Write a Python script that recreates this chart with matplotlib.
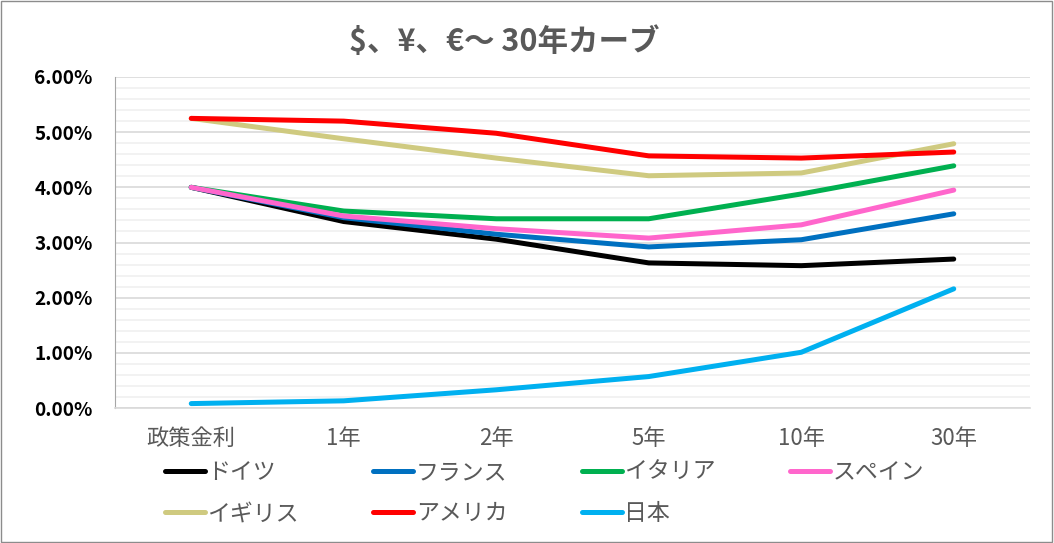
import matplotlib.pyplot as plt
from matplotlib.patches import Rectangle
from matplotlib.ticker import MultipleLocator, PercentFormatter

plt.rcParams['font.family'] = ['Noto Sans CJK JP', 'DejaVu Sans']

categories = ["政策金利", "1年", "2年", "5年", "10年", "30年"]

germany = [4.00, 3.38, 3.06, 2.63, 2.58, 2.70]
france = [4.00, 3.45, 3.15, 2.92, 3.05, 3.52]
italy = [4.00, 3.57, 3.43, 3.43, 3.88, 4.39]
spain = [4.00, 3.48, 3.25, 3.08, 3.32, 3.95]
uk = [5.25, 4.88, 4.53, 4.21, 4.26, 4.79]
usa = [5.25, 5.20, 4.98, 4.57, 4.53, 4.64]
japan = [0.08, 0.13, 0.33, 0.57, 1.01, 2.16]

series = [
    ("ドイツ", germany, "#000000"),
    ("フランス", france, "#0070C0"),
    ("イタリア", italy, "#00B050"),
    ("スペイン", spain, "#FF66CC"),
    ("イギリス", uk, "#CFCA80"),
    ("アメリカ", usa, "#FF0000"),
    ("日本", japan, "#00B0F0"),
]

fig = plt.figure(figsize=(10.54, 5.43), dpi=100)
ax = fig.add_axes([115/1054, 135/543, 915/1054, 331/543])

x = range(len(categories))
lines = {}
for name, vals, col in series:
    ln, = ax.plot(x, vals, color=col, lw=3.6, solid_capstyle='round',
                  solid_joinstyle='round', label=name)
    lines[name] = ln

ax.set_xlim(-0.5, len(categories) - 0.5)
ax.set_ylim(0, 6)
ax.yaxis.set_major_locator(MultipleLocator(1))
ax.yaxis.set_minor_locator(MultipleLocator(0.2))
ax.yaxis.set_major_formatter(PercentFormatter(decimals=2))
ax.grid(which='major', axis='y', color='#D9D9D9', lw=1.2)
ax.grid(which='minor', axis='y', color='#F0F0F0', lw=1.2)
ax.set_axisbelow(True)

ax.set_xticks(list(x))
ax.set_xticklabels(categories, color='#595959', fontsize=16)
ax.tick_params(axis='both', which='both', length=0)
ax.tick_params(axis='x', pad=14)
ax.tick_params(axis='y', pad=16)
for lab in ax.get_yticklabels():
    lab.set_fontweight('bold')
    lab.set_fontsize(13.7)
    lab.set_color('#000000')

for s in ['top', 'right']:
    ax.spines[s].set_visible(False)
ax.spines['left'].set_color('#A6A6A6')
ax.spines['bottom'].set_color('#D9D9D9')
ax.spines['bottom'].set_linewidth(1.2)

fig.text(0.478, 0.922, "$、¥、€～ 30年カーブ", ha='center', va='center',
         fontsize=22, fontweight='bold', color='#595959')

# legend fills column-wise, so order entries for 2 rows x 4 columns
order = ["ドイツ", "イギリス", "フランス", "アメリカ", "イタリア", "日本", "スペイン"]
leg = fig.legend([lines[n] for n in order], order, ncol=4,
                 loc='upper left', bbox_to_anchor=(165/1054, 1 - 461/543),
                 frameon=False, fontsize=16.5, handlelength=1.75,
                 handletextpad=0.1, columnspacing=3.25, labelspacing=0.8,
                 borderaxespad=0, borderpad=0)
for t in leg.get_texts():
    t.set_color('#595959')

fig.patches.append(Rectangle((0.0005, 0.001), 0.998, 0.997, transform=fig.transFigure,
                             fill=False, edgecolor='#8C8C8C', lw=1.0))

fig.savefig('out.png', dpi=100)
